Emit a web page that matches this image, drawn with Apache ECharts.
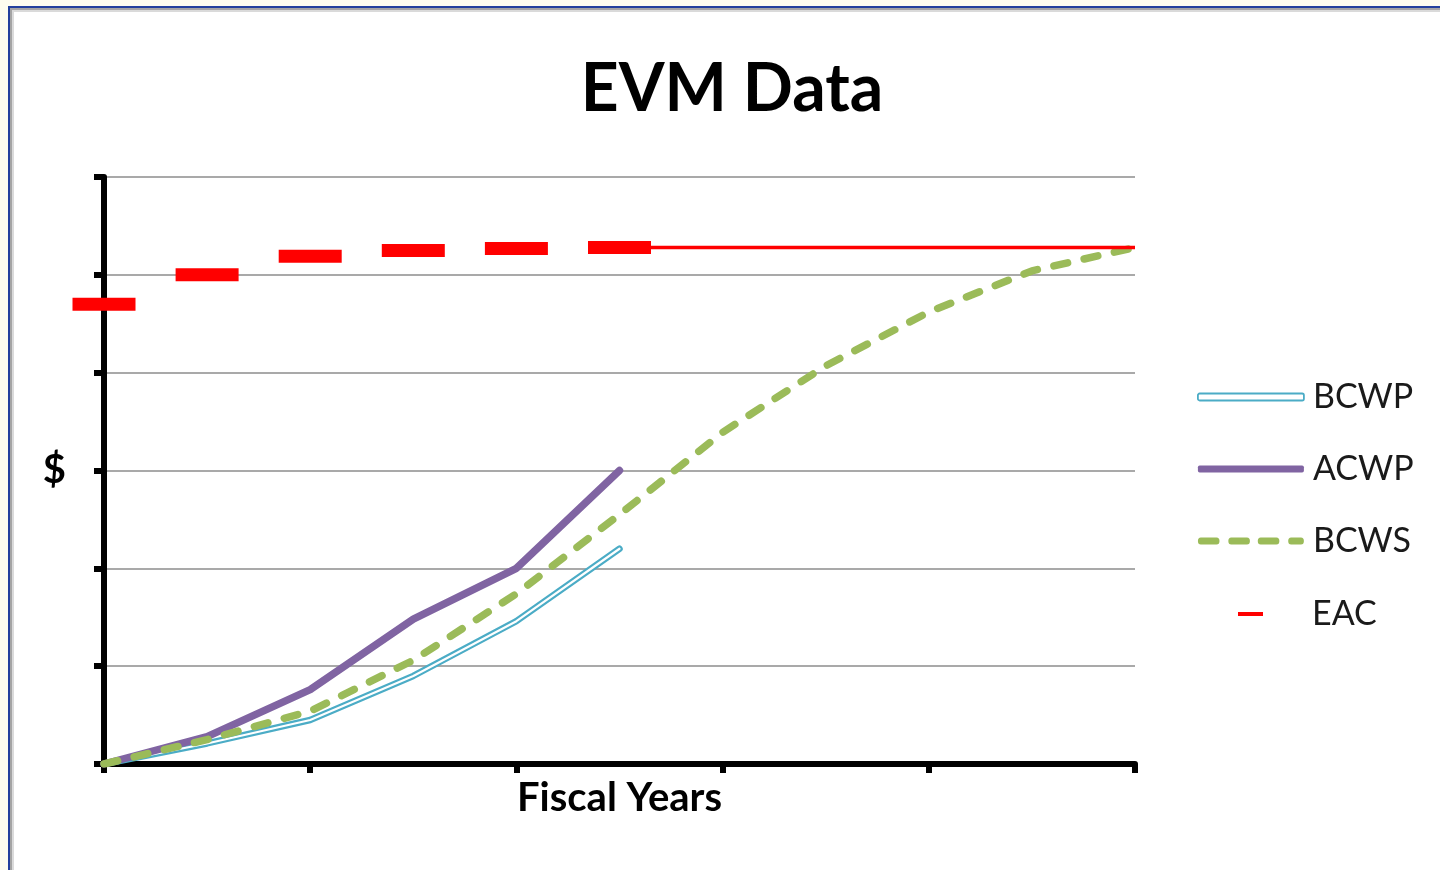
<!DOCTYPE html>
<html>
<head>
<meta charset="utf-8">
<title>EVM Data</title>
<script src="https://cdn.jsdelivr.net/npm/echarts@6/dist/echarts.min.js"></script>
<style>
  html, body { margin: 0; padding: 0; width: 1440px; height: 870px; overflow: hidden; background: #fdfdef; }
  #frame {
    position: absolute; left: 8px; top: 6px; width: 1432px; height: 864px;
    background: #ffffff;
    border-left: 2px solid #22409c; border-top: 2px solid #22409c;
    box-sizing: border-box;
    box-shadow: inset 2px 2px 0 #a4a4a4, inset 4px 4px 0 #dadada;
  }
  #chart { position: absolute; left: 0; top: 0; width: 1440px; height: 870px; }
</style>
</head>
<body>
<div id="frame"></div>
<div id="chart"></div>
<script>
// Reporting periods: half-year steps across five fiscal years
const halfYears = ['0', '0.5', '1', '1.5', '2', '2.5', '3', '3.5', '4', '4.5', '5'];

// Earned value (budgeted cost of work performed)
const bcwp = [0, 0.21, 0.45, 0.90, 1.46, 2.20];
// Actual cost of work performed
const acwp = [0, 0.28, 0.76, 1.48, 2.00, 3.00];
// Planned value (budgeted cost of work scheduled)
const bcws = [0, 0.25, 0.54, 1.06, 1.74, 2.55, 3.39, 4.07, 4.62, 5.04, 5.28];
// Estimate at completion reported each period
const eac = [4.70, 5.00, 5.19, 5.25, 5.27, 5.28];
// Latest estimate carried forward to completion
const eacForward = [null, null, null, null, null, 5.28, 5.28, 5.28, 5.28, 5.28, 5.28];

const FONT = 'Lato, "Open Sans", sans-serif';

const chart = echarts.init(document.getElementById('chart'), null, { renderer: 'canvas' });

const option = {
  backgroundColor: 'transparent',
  animation: false,
  title: {
    text: 'EVM Data',
    left: 732,
    top: 57,
    padding: 0,
    textAlign: 'center',
    textStyle: { fontFamily: FONT, fontSize: 66, fontWeight: 'bold', color: '#000', lineHeight: 66 }
  },
  legend: [
    {
      orient: 'vertical',
      left: 1197,
      top: 380,
      padding: 0,
      itemWidth: 106,
      itemHeight: 7,
      itemGap: 38,
      symbolKeepAspect: false,
      selectedMode: false,
      textStyle: { fontFamily: FONT, fontSize: 34, lineHeight: 34, color: '#1a1a1a', padding: [0, 0, 0, 4] },
      data: [
        { name: 'BCWP', icon: 'roundRect', itemStyle: { color: '#ffffff', borderColor: '#4bacc6', borderWidth: 1.8 } },
        { name: 'ACWP', icon: 'roundRect', itemStyle: { color: '#8064a2', borderWidth: 0 } },
        {
          name: 'BCWS',
          icon: 'path://M3,0 H19 A3,3 0 0 1 19,6 H3 A3,3 0 0 1 3,0 Z M34,0 H50 A3,3 0 0 1 50,6 H34 A3,3 0 0 1 34,0 Z M64,0 H80 A3,3 0 0 1 80,6 H64 A3,3 0 0 1 64,0 Z M95,0 H105 A3,3 0 0 1 105,6 H95 A3,3 0 0 1 95,0 Z',
          itemStyle: { color: '#9bbb59', borderWidth: 0 }
        }
      ]
    },
    {
      orient: 'vertical',
      left: 1238,
      top: 597,
      padding: 0,
      itemWidth: 25,
      itemHeight: 4,
      symbolKeepAspect: false,
      selectedMode: false,
      textStyle: { fontFamily: FONT, fontSize: 34, lineHeight: 34, color: '#1a1a1a', padding: [0, 0, 0, 44] },
      data: [
        { name: 'EAC', icon: 'rect', itemStyle: { color: '#ff0000', borderWidth: 0 } }
      ]
    }
  ],
  grid: { left: 104, right: 305, top: 177, bottom: 106, containLabel: false },
  xAxis: {
    type: 'category',
    data: halfYears,
    boundaryGap: false,
    name: 'Fiscal Years',
    nameLocation: 'middle',
    nameGap: 14,
    nameTextStyle: { fontFamily: FONT, fontSize: 40, fontWeight: 'bold', color: '#000', verticalAlign: 'top', lineHeight: 40 },
    axisLine: { show: true, lineStyle: { color: '#000', width: 6 } },
    axisTick: { show: true, interval: 1, length: 9, lineStyle: { color: '#000', width: 6 } },
    axisLabel: { show: false },
    splitLine: { show: false }
  },
  yAxis: {
    type: 'value',
    min: 0,
    max: 6,
    interval: 1,
    name: '$',
    nameLocation: 'middle',
    nameRotate: 0,
    nameGap: 38,
    nameTextStyle: { fontFamily: FONT, fontSize: 40, fontWeight: 'bold', color: '#000' },
    axisLine: { show: true, onZero: false, lineStyle: { color: '#000', width: 6 } },
    axisTick: { show: true, length: 10, lineStyle: { color: '#000', width: 6 } },
    axisLabel: { show: false },
    splitLine: { show: true, lineStyle: { color: '#8c8c8c', width: 1.5 } }
  },
  series: [
    {
      name: 'BCWP', type: 'line', data: bcwp, symbol: 'none', silent: true,
      lineStyle: { color: '#4bacc6', width: 6.5, cap: 'round', join: 'round' },
      itemStyle: { color: '#4bacc6' }
    },
    {
      name: 'BCWP', type: 'line', data: bcwp, symbol: 'none', silent: true,
      lineStyle: { color: '#ffffff', width: 2.2, cap: 'round', join: 'round' },
      itemStyle: { color: '#4bacc6' }
    },
    {
      name: 'ACWP', type: 'line', data: acwp, symbol: 'none', silent: true,
      lineStyle: { color: '#8064a2', width: 7.5, cap: 'round', join: 'round' },
      itemStyle: { color: '#8064a2' }
    },
    {
      name: 'BCWS', type: 'line', data: bcws, symbol: 'none', silent: true,
      lineStyle: { color: '#9bbb59', width: 7.5, type: [14, 17], cap: 'round', join: 'round' },
      itemStyle: { color: '#9bbb59' }
    },
    {
      name: 'EAC', type: 'line', data: eac, silent: true,
      symbol: 'rect', symbolSize: [63, 13], showSymbol: true, showAllSymbol: true,
      lineStyle: { width: 0, opacity: 0 },
      itemStyle: { color: '#ff0000', borderWidth: 0 }
    },
    {
      name: 'EAC', type: 'line', data: eacForward, symbol: 'none', silent: true,
      lineStyle: { color: '#ff0000', width: 3.5 },
      itemStyle: { color: '#ff0000' }
    }
  ]
};

chart.setOption(option);
</script>
</body>
</html>
